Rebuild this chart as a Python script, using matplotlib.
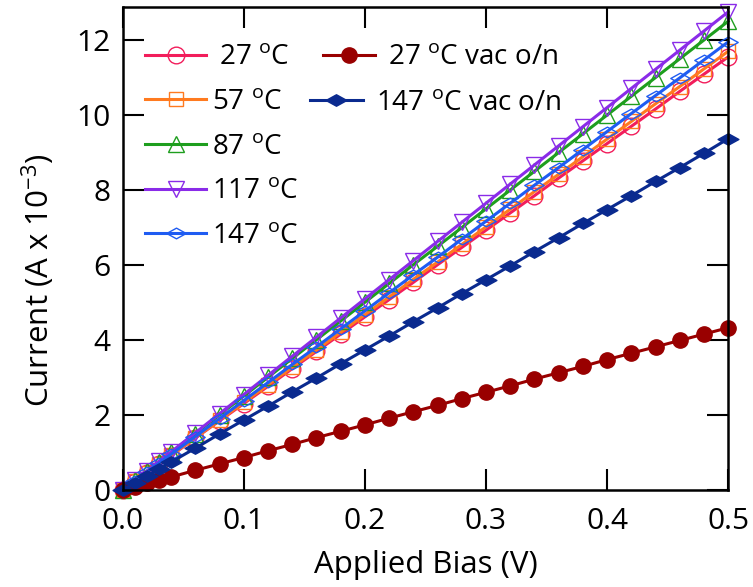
import matplotlib
matplotlib.use("Agg")
import matplotlib.pyplot as plt
from matplotlib.path import Path

plt.rcParams['font.family'] = ['Open Sans', 'DejaVu Sans']
plt.rcParams['mathtext.default'] = 'regular'

# Applied bias (V)
bias = [0.00, 0.01, 0.02, 0.03, 0.04, 0.06, 0.08, 0.10, 0.12, 0.14, 0.16, 0.18,
        0.20, 0.22, 0.24, 0.26, 0.28, 0.30, 0.32, 0.34, 0.36, 0.38, 0.40, 0.42,
        0.44, 0.46, 0.48, 0.50]

# Current (mA) for each condition
i_27 = [0.00, 0.23, 0.46, 0.69, 0.92, 1.39, 1.85, 2.31, 2.77, 3.24, 3.70, 4.16,
        4.62, 5.08, 5.54, 6.01, 6.47, 6.93, 7.39, 7.85, 8.32, 8.78, 9.24, 9.70,
        10.16, 10.63, 11.09, 11.55]
i_57 = [0.00, 0.24, 0.47, 0.70, 0.94, 1.40, 1.87, 2.34, 2.81, 3.28, 3.74, 4.21,
        4.68, 5.15, 5.62, 6.08, 6.55, 7.02, 7.49, 7.96, 8.42, 8.89, 9.36, 9.83,
        10.30, 10.76, 11.23, 11.70]
i_87 = [0.00, 0.26, 0.51, 0.76, 1.01, 1.51, 2.01, 2.51, 3.01, 3.51, 4.01, 4.51,
        5.01, 5.51, 6.01, 6.50, 7.00, 7.50, 8.00, 8.50, 9.00, 9.50, 10.00, 10.50,
        11.00, 11.50, 12.00, 12.50]
i_117 = [0.00, 0.26, 0.51, 0.77, 1.02, 1.53, 2.04, 2.55, 3.06, 3.57, 4.08, 4.59,
         5.10, 5.61, 6.12, 6.63, 7.14, 7.65, 8.16, 8.67, 9.18, 9.69, 10.20, 10.71,
         11.22, 11.73, 12.24, 12.75]
i_147 = [0.00, 0.24, 0.48, 0.72, 0.96, 1.43, 1.91, 2.39, 2.87, 3.35, 3.82, 4.30,
         4.78, 5.26, 5.74, 6.21, 6.69, 7.17, 7.65, 8.13, 8.60, 9.08, 9.56, 10.04,
         10.52, 10.99, 11.47, 11.95]
i_27_vac = [0.00, 0.09, 0.18, 0.27, 0.35, 0.53, 0.70, 0.87, 1.05, 1.22, 1.40, 1.57,
            1.74, 1.92, 2.09, 2.26, 2.44, 2.61, 2.78, 2.96, 3.13, 3.30, 3.48, 3.65,
            3.82, 3.99, 4.16, 4.33]
i_147_vac = [0.00, 0.19, 0.37, 0.56, 0.75, 1.12, 1.50, 1.87, 2.24, 2.62, 2.99, 3.37,
             3.74, 4.11, 4.49, 4.86, 5.24, 5.61, 5.98, 6.36, 6.73, 7.11, 7.48, 7.85,
             8.23, 8.60, 8.98, 9.37]

x_ticks = [0.0, 0.1, 0.2, 0.3, 0.4, 0.5]
y_ticks = [0, 2, 4, 6, 8, 10, 12]

# flattened diamond marker
flat_diamond = Path([(-1, 0), (0, 0.55), (1, 0), (0, -0.55), (-1, 0)],
                    [Path.MOVETO, Path.LINETO, Path.LINETO, Path.LINETO, Path.CLOSEPOLY])

fig = plt.figure(figsize=(7.53, 5.87), dpi=100)
ax = fig.add_axes([0.163, 0.165, 0.804, 0.823])

open_series = [
    (i_27, ' 27 $^{o}$C', '#f21d5b', 'o', 12),
    (i_57, '57 $^{o}$C', '#ff7a1f', 's', 10),
    (i_87, '87 $^{o}$C', '#1e9e1e', '^', 12),
    (i_117, '117 $^{o}$C', '#8a2be8', 'v', 12),
    (i_147, '147 $^{o}$C', '#1f5cf2', flat_diamond, 14),
]
h1 = []
for y, lab, col, mk, ms in open_series:
    ln, = ax.plot(bias, y, color=col, lw=2.2, marker=mk, ms=ms, mfc='none',
                  mec=col, mew=1.0, label=lab, clip_on=False)
    h1.append(ln)

ln_27v, = ax.plot(bias, i_27_vac, color='#990000', lw=2.2, marker='o', ms=11,
                  mfc='#990000', mec='#990000', label=' 27 $^{o}$C vac o/n',
                  clip_on=False)
ln_147v, = ax.plot(bias, i_147_vac, color='#0a2a8f', lw=2.2, marker=flat_diamond,
                   ms=15, mfc='#0a2a8f', mec='#0a2a8f', label='147 $^{o}$C vac o/n',
                   clip_on=False)

ax.set_xlim(0, 0.5)
ax.set_ylim(0, 12.88)
ax.set_xticks(x_ticks)
ax.set_xticklabels(['%.1f' % v for v in x_ticks])
ax.set_yticks(y_ticks)
ax.set_yticklabels([str(v) for v in y_ticks])
ax.tick_params(direction='in', length=15, width=1.5, labelsize=21.5,
               top=True, right=True)
ax.tick_params(axis='x', pad=12)
ax.tick_params(axis='y', pad=9)
for s in ax.spines.values():
    s.set_linewidth(1.8)

ax.set_xlabel('Applied Bias (V)', fontsize=22.5, labelpad=10)
ax.set_ylabel('Current (A x 10$^{-3}$)', fontsize=22.5)
ax.yaxis.set_label_coords(-0.108, 0.435)

leg_kw = dict(loc='upper left', frameon=False, fontsize=20,
              borderpad=0, borderaxespad=0)
leg1 = ax.legend(handles=h1, bbox_to_anchor=(0.036, 0.925), handlelength=2.23,
                 handletextpad=0.2, labelspacing=0.6, **leg_kw)
ax.add_artist(leg1)
leg2 = ax.legend(handles=[ln_27v], bbox_to_anchor=(0.33, 0.925), handlelength=1.9,
                 handletextpad=0.2, **leg_kw)
ax.add_artist(leg2)
ax.legend(handles=[ln_147v], bbox_to_anchor=(0.309, 0.83), handlelength=1.9,
          handletextpad=0.5, **leg_kw)

fig.savefig('out.png', dpi=100)
